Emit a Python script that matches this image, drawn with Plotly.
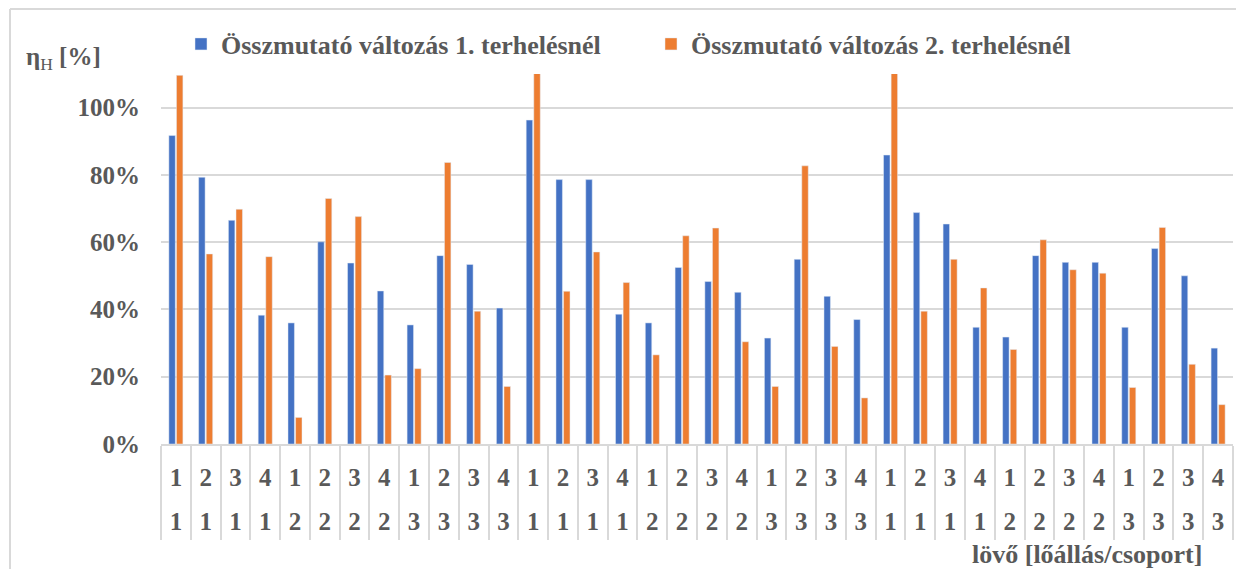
import plotly.graph_objects as go

# Lőállás (firing position) and csoport (group) labels for each shooter
loallas = ["1", "2", "3", "4"] * 9
csoport = (["1"] * 4 + ["2"] * 4 + ["3"] * 4) * 3

# Összmutató változás (fraction) for the two load levels
terheles_1 = [0.917, 0.793, 0.665, 0.383, 0.360, 0.601, 0.538, 0.455, 0.354, 0.560, 0.534, 0.404,
              0.963, 0.786, 0.786, 0.386, 0.360, 0.525, 0.483, 0.451, 0.315, 0.549, 0.439, 0.370,
              0.859, 0.688, 0.654, 0.347, 0.318, 0.560, 0.540, 0.540, 0.347, 0.581, 0.500, 0.285]
terheles_2 = [1.096, 0.565, 0.698, 0.557, 0.079, 0.730, 0.676, 0.205, 0.224, 0.837, 0.395, 0.171,
              1.160, 0.454, 0.571, 0.480, 0.265, 0.619, 0.642, 0.304, 0.171, 0.827, 0.290, 0.137,
              1.130, 0.395, 0.549, 0.464, 0.281, 0.607, 0.518, 0.508, 0.168, 0.644, 0.237, 0.117]

series_names = ["Összmutató változás 1. terhelésnél", "Összmutató változás 2. terhelésnél"]
y_ticks = [0, 0.2, 0.4, 0.6, 0.8, 1.0]
y_max = 1.1

W, H = 1236, 569
# plot box in page pixels
PX_LEFT, PX_RIGHT, PX_TOP, PX_BOTTOM = 161, 1233, 74, 444
FONT = "Liberation Serif, Times New Roman, serif"
GREY = "#595959"
LINE = "#d9d9d9"
TICK_SIZE = 25


def px_x(px):
    return px / W


def px_y(px):
    return 1 - px / H


idx = list(range(len(loallas)))
boundaries = [i - 0.5 for i in idx] + [idx[-1] + 0.5]

fig = go.Figure()
fig.add_trace(go.Bar(x=idx, y=terheles_1, name=series_names[0], marker_color="#4472C4"))
fig.add_trace(go.Bar(x=idx, y=terheles_2, name=series_names[1], marker_color="#ED7D31"))

x_range = [-0.5, idx[-1] + 0.5]
tick_font = dict(family=FONT, size=TICK_SIZE, color=GREY, weight="bold")

fig.update_layout(
    width=W, height=H,
    margin=dict(l=0, r=0, t=0, b=0, autoexpand=False),
    paper_bgcolor="white", plot_bgcolor="white",
    barmode="group", bargap=0.49, bargroupgap=0.15,
    font=dict(family=FONT, color=GREY, size=TICK_SIZE),
    legend=dict(
        orientation="h", xref="container", yref="container",
        x=181 / W, y=1 - 44 / H, xanchor="left", yanchor="middle",
        font=dict(family=FONT, size=26, color=GREY, weight="bold"),
        entrywidth=425, entrywidthmode="pixels",
        bgcolor="rgba(0,0,0,0)", itemclick=False,
    ),
    xaxis=dict(
        range=x_range, anchor="y", domain=[px_x(PX_LEFT), px_x(PX_RIGHT)],
        tickmode="array", tickvals=idx, ticktext=loallas, ticks="",
        tickfont=tick_font, ticklabelstandoff=10,
        showline=True, linecolor=LINE, linewidth=1.5,
        showgrid=False, zeroline=False, automargin=False,
        minor=dict(tickmode="array", tickvals=boundaries, ticks="outside",
                   ticklen=94, tickcolor=LINE, tickwidth=1.5, showgrid=False),
    ),
    xaxis2=dict(
        range=x_range, overlaying="x", anchor="free", side="bottom",
        position=px_y(504),
        tickmode="array", tickvals=idx, ticktext=csoport, ticks="",
        tickfont=tick_font, automargin=False,
        showline=False, showgrid=False, zeroline=False,
    ),
    yaxis=dict(
        range=[0, y_max], domain=[px_y(PX_BOTTOM), px_y(PX_TOP)],
        tickmode="array", tickvals=y_ticks, tickformat=".0%",
        tickfont=tick_font, ticklabelstandoff=20, automargin=False,
        showgrid=True, gridcolor=LINE, gridwidth=1.5,
        zeroline=False, showline=False,
    ),
    showlegend=True,
)

# invisible helper so the second category row is laid out on xaxis2
fig.add_trace(go.Scatter(x=idx, y=[0] * len(idx), xaxis="x2", mode="markers",
                         marker=dict(opacity=0), showlegend=False, hoverinfo="skip"))

# axis titles
fig.add_annotation(text="<b>η</b><sub>H</sub><b> [%]</b>", xref="paper", yref="paper",
                   x=px_x(24), y=px_y(58),
                   xanchor="left", yanchor="middle", showarrow=False,
                   font=dict(family=FONT, size=25, color=GREY))
fig.add_annotation(text="lövő [lőállás/csoport]", xref="paper", yref="paper",
                   x=px_x(1204), y=px_y(554),
                   xanchor="right", yanchor="middle", showarrow=False,
                   font=dict(family=FONT, size=26, color=GREY, weight="bold"))

# chart frame: left and top edges
frame = dict(color=LINE, width=2)
fig.add_shape(type="line", xref="paper", yref="paper", layer="above",
              x0=px_x(10), x1=px_x(10), y0=0, y1=px_y(9), line=frame)
fig.add_shape(type="line", xref="paper", yref="paper", layer="above",
              x0=px_x(10), x1=1, y0=px_y(9), y1=px_y(9), line=frame)

fig.write_html("out.html")
